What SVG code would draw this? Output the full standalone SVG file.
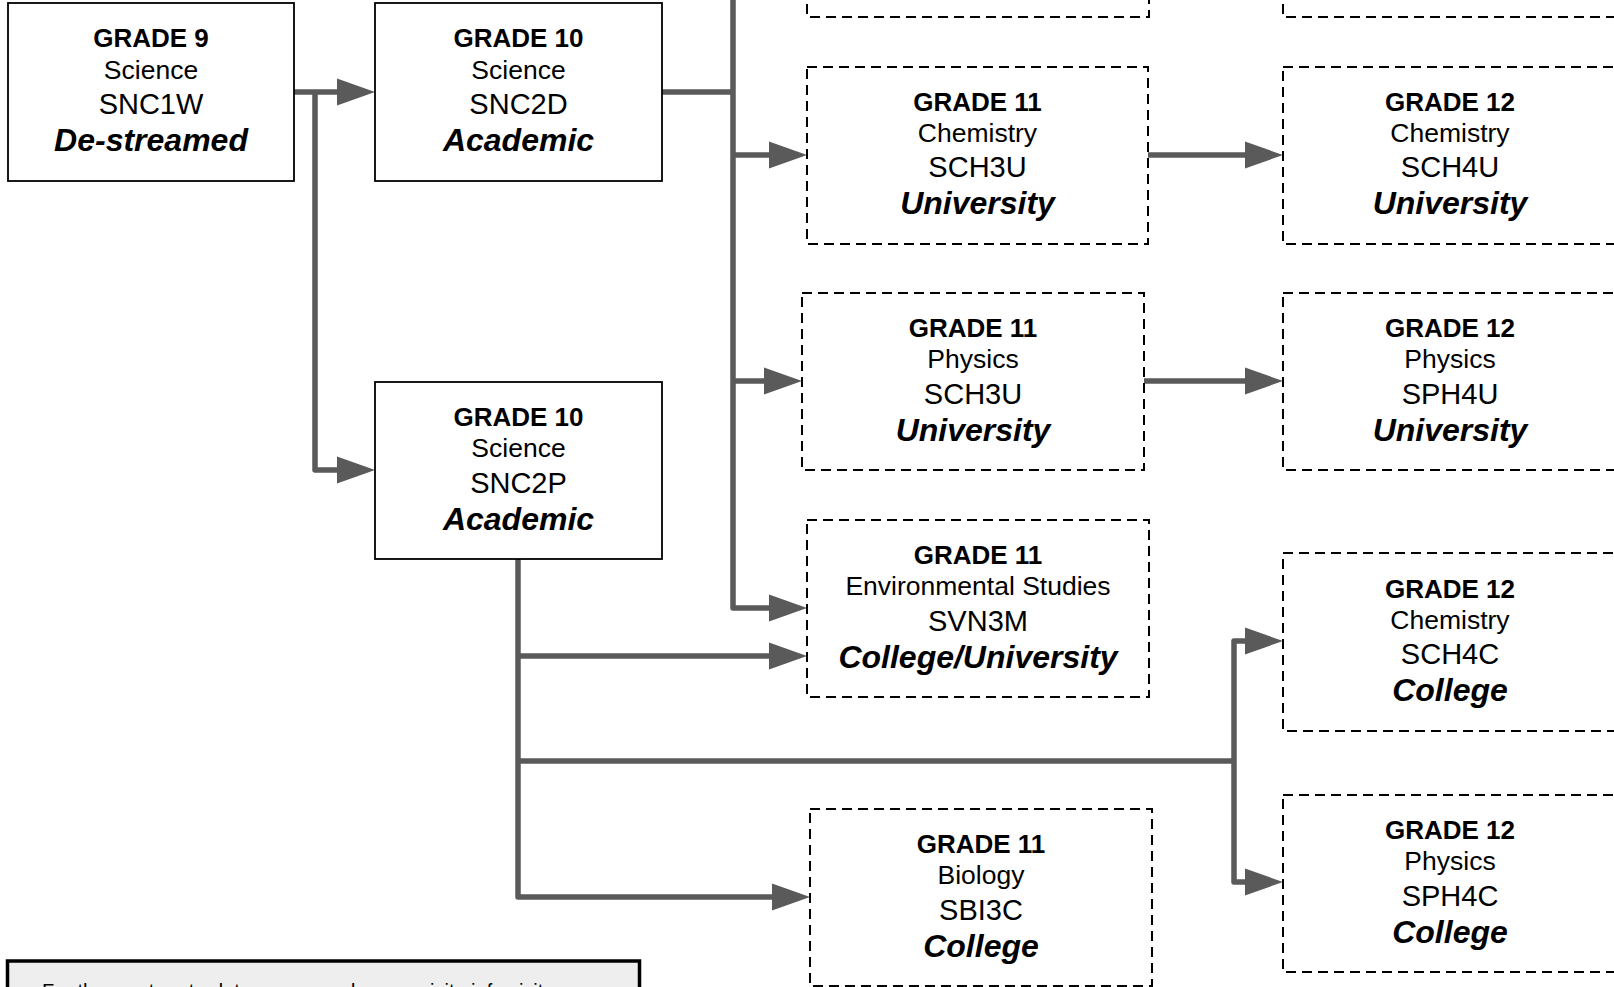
<svg xmlns="http://www.w3.org/2000/svg" width="1614" height="987" viewBox="0 0 1614 987">
<style>
.solid{fill:#fff;stroke:#000;stroke-width:1.8}
.dash{fill:#fff;stroke:#000;stroke-width:2;stroke-dasharray:10 6}
text{font-family:"Liberation Sans",Arial,sans-serif;fill:#000;text-anchor:middle}
.g{font-size:26px;font-weight:bold}
.s{font-size:26.5px}
.c{font-size:29px}
.l{font-size:32px;font-weight:bold;font-style:italic}
.conn path{fill:none;stroke:#5a5a5a;stroke-width:5.5;stroke-linejoin:round}
</style>
<defs>
<marker id="ah" markerUnits="userSpaceOnUse" markerWidth="38" markerHeight="28" refX="28" refY="13.5" orient="auto" viewBox="0 0 38 27">
<path d="M0,0 L38,13.5 L0,27 z" fill="#5a5a5a"/>
</marker>
</defs>
<rect width="1614" height="987" fill="#fff"/>

<g class="conn" id="connectors">
<path d="M294,92 H365" marker-end="url(#ah)"/>
<path d="M315,92 V470 H365" marker-end="url(#ah)"/>
<path d="M662,92 H733"/>
<path d="M733,-10 V608 H797" marker-end="url(#ah)"/>
<path d="M733,155 H797" marker-end="url(#ah)"/>
<path d="M733,381 H792" marker-end="url(#ah)"/>
<path d="M1148,155 H1273" marker-end="url(#ah)"/>
<path d="M1144,381 H1273" marker-end="url(#ah)"/>
<path d="M518,559 V897 H800" marker-end="url(#ah)"/>
<path d="M518,656 H797" marker-end="url(#ah)"/>
<path d="M518,761 H1234"/>
<path d="M1234,761 V641 H1273" marker-end="url(#ah)"/>
<path d="M1234,761 V882 H1273" marker-end="url(#ah)"/>
</g>

<g id="g11-top"><rect class="dash" x="807" y="-160" width="342" height="177"/></g>
<g id="g12-top"><rect class="dash" x="1283" y="-160" width="334" height="177"/></g>

<g id="snc1w">
<rect class="solid" x="8" y="3" width="286" height="178"/>
<text x="151" y="47.4" class="g">GRADE 9</text>
<text x="151" y="78.5" class="s">Science</text>
<text x="151" y="114" class="c">SNC1W</text>
<text x="151" y="151" class="l">De-streamed</text>
</g>

<g id="snc2d">
<rect class="solid" x="375" y="3" width="287" height="178"/>
<text x="518.5" y="47.4" class="g">GRADE 10</text>
<text x="518.5" y="78.5" class="s">Science</text>
<text x="518.5" y="114" class="c">SNC2D</text>
<text x="518.5" y="151" class="l">Academic</text>
</g>

<g id="snc2p">
<rect class="solid" x="375" y="382" width="287" height="177"/>
<text x="518.5" y="426" class="g">GRADE 10</text>
<text x="518.5" y="457" class="s">Science</text>
<text x="518.5" y="492.5" class="c">SNC2P</text>
<text x="518.5" y="529.5" class="l">Academic</text>
</g>

<g id="sch3u">
<rect class="dash" x="807" y="67" width="341" height="177"/>
<text x="977.5" y="110.5" class="g">GRADE 11</text>
<text x="977.5" y="141.7" class="s">Chemistry</text>
<text x="977.5" y="177.3" class="c">SCH3U</text>
<text x="977.5" y="214.3" class="l">University</text>
</g>

<g id="sch4u">
<rect class="dash" x="1283" y="67" width="334" height="177"/>
<text x="1450" y="110.5" class="g">GRADE 12</text>
<text x="1450" y="141.7" class="s">Chemistry</text>
<text x="1450" y="177.3" class="c">SCH4U</text>
<text x="1450" y="214.3" class="l">University</text>
</g>

<g id="sph3u">
<rect class="dash" x="802" y="293" width="342" height="177"/>
<text x="973" y="337" class="g">GRADE 11</text>
<text x="973" y="368" class="s">Physics</text>
<text x="973" y="403.5" class="c">SCH3U</text>
<text x="973" y="440.5" class="l">University</text>
</g>

<g id="sph4u">
<rect class="dash" x="1283" y="293" width="334" height="177"/>
<text x="1450" y="337" class="g">GRADE 12</text>
<text x="1450" y="368" class="s">Physics</text>
<text x="1450" y="403.5" class="c">SPH4U</text>
<text x="1450" y="440.5" class="l">University</text>
</g>

<g id="svn3m">
<rect class="dash" x="807" y="520" width="342" height="177"/>
<text x="978" y="564" class="g">GRADE 11</text>
<text x="978" y="595" class="s">Environmental Studies</text>
<text x="978" y="630.5" class="c">SVN3M</text>
<text x="978" y="667.5" class="l">College/University</text>
</g>

<g id="sch4c">
<rect class="dash" x="1283" y="553" width="334" height="178"/>
<text x="1450" y="597.5" class="g">GRADE 12</text>
<text x="1450" y="628.5" class="s">Chemistry</text>
<text x="1450" y="664" class="c">SCH4C</text>
<text x="1450" y="701" class="l">College</text>
</g>

<g id="sbi3c">
<rect class="dash" x="810" y="809" width="342" height="177"/>
<text x="981" y="853" class="g">GRADE 11</text>
<text x="981" y="884" class="s">Biology</text>
<text x="981" y="919.5" class="c">SBI3C</text>
<text x="981" y="956.5" class="l">College</text>
</g>

<g id="sph4c">
<rect class="dash" x="1283" y="795" width="334" height="177"/>
<text x="1450" y="839" class="g">GRADE 12</text>
<text x="1450" y="870" class="s">Physics</text>
<text x="1450" y="905.5" class="c">SPH4C</text>
<text x="1450" y="942.5" class="l">College</text>
</g>

<g id="note">
<rect x="7.5" y="961" width="632" height="60" fill="#eeeeee" stroke="#000" stroke-width="3.5"/>
<text x="42" y="998" style="font-size:20px;text-anchor:start">For the most up-to-date course and prerequisite info visit</text>
</g>
</svg>
